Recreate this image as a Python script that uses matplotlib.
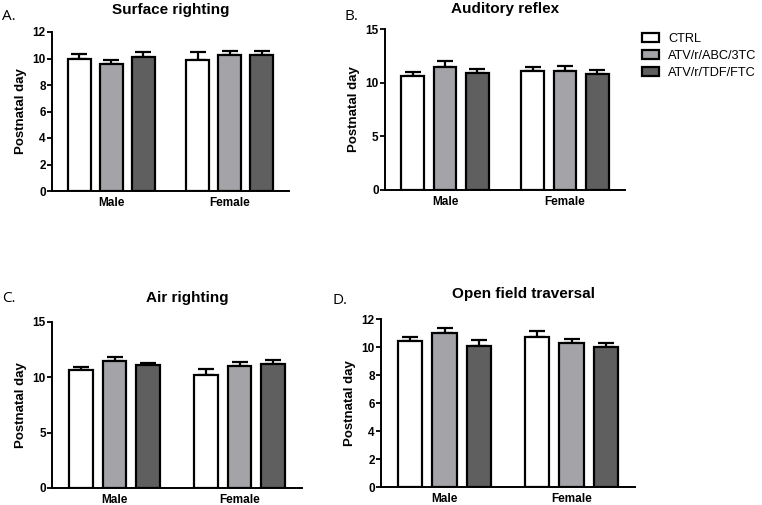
import matplotlib
matplotlib.use("Agg")
import matplotlib.pyplot as plt
import numpy as np
from matplotlib.patches import Patch

plt.rcParams['font.family'] = ['Liberation Sans', 'DejaVu Sans']

groups = ["Male", "Female"]
series = ["CTRL", "ATV/r/ABC/3TC", "ATV/r/TDF/FTC"]
colors = ["#ffffff", "#a3a3a8", "#5f5f5f"]

titles = ["Surface righting", "Auditory reflex", "Air righting", "Open field traversal"]
letters = ["A.", "B.", "C.", "D."]

# means[panel][series][group]
surface_mean = [[9.95, 9.9], [9.6, 10.3], [10.15, 10.3]]
surface_err = [[0.38, 0.6], [0.32, 0.3], [0.32, 0.25]]
auditory_mean = [[10.6, 11.05], [11.5, 11.1], [10.9, 10.8]]
auditory_err = [[0.35, 0.45], [0.48, 0.48], [0.37, 0.34]]
air_mean = [[10.65, 10.25], [11.5, 11.05], [11.08, 11.25]]
air_err = [[0.3, 0.48], [0.36, 0.34], [0.18, 0.34]]
open_mean = [[10.45, 10.75], [11.0, 10.3], [10.05, 9.97]]
open_err = [[0.28, 0.36], [0.36, 0.27], [0.45, 0.31]]

means = [surface_mean, auditory_mean, air_mean, open_mean]
errs = [surface_err, auditory_err, air_err, open_err]
ymaxs = [12, 15, 15, 12]
ysteps = [2, 5, 5, 2]

# axes rectangles in pixels: left, right, top, bottom
W, H = 762, 505
rects_px = [(52, 289, 32, 191), (385, 625, 29, 190), (52, 302, 322, 488), (381, 635, 319, 487)]
title_px = [(171, 10), (505, 9), (187, 298), (523, 294)]
letter_px = [(2, 16), (345, 16), (2, 298), (333, 300)]

fig = plt.figure(figsize=(W / 100, H / 100), dpi=100)

offsets = [-0.27, 0.0, 0.27]
width = 0.19
x = np.arange(len(groups))

for i in range(4):
    l, r, t, b = rects_px[i]
    ax = fig.add_axes([l / W, 1 - b / H, (r - l) / W, (b - t) / H])
    for s in range(3):
        ax.bar(x + offsets[s], means[i][s], width, color=colors[s], edgecolor="black",
               linewidth=1.6, zorder=2)
        ax.errorbar(x + offsets[s], means[i][s], yerr=[np.zeros(2), errs[i][s]],
                    fmt="none", ecolor="black", elinewidth=1.6, capsize=5.5, capthick=1.6, zorder=1)
    ax.set_xlim(-0.5, 1.5)
    ax.set_ylim(0, ymaxs[i])
    ax.set_yticks(np.arange(0, ymaxs[i] + 0.1, ysteps[i]))
    ax.set_xticks(x)
    ax.set_xticklabels(groups, fontsize=8.5, fontweight="bold")
    for lab in ax.get_yticklabels():
        lab.set_fontweight("bold")
        lab.set_fontsize(8.5)
    ax.tick_params(axis="x", length=0, pad=4)
    ax.tick_params(axis="y", length=3.5, width=1.3, pad=1, direction="out")
    ax.spines["top"].set_visible(False)
    ax.spines["right"].set_visible(False)
    ax.spines["left"].set_linewidth(1.4)
    ax.spines["bottom"].set_linewidth(1.4)
    ax.set_ylabel("Postnatal day", fontsize=9.5, fontweight="bold", labelpad=4)
    tx, ty = title_px[i]
    fig.text(tx / W, 1 - ty / H, titles[i], ha="center", va="center", fontsize=11, fontweight="bold")
    lx, ly = letter_px[i]
    fig.text(lx / W, 1 - ly / H, letters[i], ha="left", va="center", fontsize=11,
             family=["Open Sans", "DejaVu Sans"])

handles = [Patch(facecolor=colors[s], edgecolor="black", linewidth=1.6) for s in range(3)]
fig.legend(handles, series, loc="upper left", bbox_to_anchor=(642 / W, 1 - 33 / H), frameon=False,
           fontsize=9.2, handlelength=1.35, handleheight=0.75, handletextpad=0.7, labelspacing=0.38,
           borderaxespad=0, borderpad=0)

fig.savefig("out.png", dpi=100)
